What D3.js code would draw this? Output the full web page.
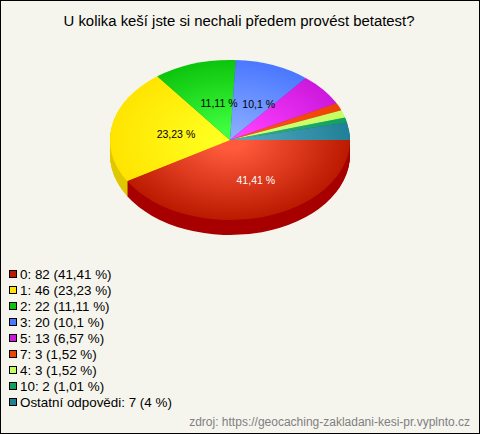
<!DOCTYPE html>
<html><head><meta charset="utf-8">
<script src="https://cdn.jsdelivr.net/npm/d3@7"></script>
<style>html,body{margin:0;padding:0;background:#f5f5ee}svg{display:block}text{font-family:"Liberation Sans",Arial,sans-serif}</style>
</head><body><svg id="c" width="480" height="434"></svg>
<script>
const title = "U kolika keší jste si nechali předem provést betatest?";
const source = "zdroj: https://geocaching-zakladani-kesi-pr.vyplnto.cz";
const categories = ["0","1","2","3","5","7","4","10","Ostatní odpovědi"];
const counts = [82,46,22,20,13,3,3,2,7];
const percents = ["41,41","23,23","11,11","10,1","6,57","1,52","1,52","1,01","4"];
const sliceLabels = ["41,41 %","23,23 %","11,11 %","10,1 %","","","","",""];
const labelColors = ["#fff","#000","#000","#000","#000","#000","#000","#000","#000"];
const edgeColors = ["#bb1a00","#ffe400","#0cc40c","#4a78ff","#cc18dd","#ee4400","#c4ff60","#10a060","#208098"];
const centerColors = ["#ff5a3c","#ffff20","#40ff40","#88aaff","#ff40ff","#ff5020","#d0ff80","#30b080","#50a8c0"];
const wallColors = ["#a80000","#e0c800","#0a9a0a","#3058c0","#a010b0","#b83000","#a0c840","#0a7a4a","#186078"];

const W=480,H=434,cx=230,cy=140,rx=120,ry=80,depth=15;
const svg=d3.select("#c");
svg.append("rect").attr("x",.5).attr("y",.5).attr("width",W-1).attr("height",H-1).attr("fill","#f5f5ee").attr("stroke","#000");
svg.append("text").attr("x",239).attr("y",26).attr("text-anchor","middle").attr("font-size",14.9).attr("fill","#000").text(title);

const pie=d3.pie().sort(null).startAngle(Math.PI/2).endAngle(Math.PI*2.5);
const arcs=pie(counts);
const arc=d3.arc().innerRadius(0).outerRadius(1);
const defs=svg.append("defs");
categories.forEach((c,i)=>{
  const g=defs.append("radialGradient").attr("id","g"+i).attr("gradientUnits","userSpaceOnUse").attr("cx",0).attr("cy",0).attr("r",1);
  g.append("stop").attr("offset","0.12").attr("stop-color",centerColors[i]);
  g.append("stop").attr("offset","1").attr("stop-color",edgeColors[i]);
});
// walls: the same slices stacked downward, deepest first
d3.range(depth,0,-1).forEach(d=>{
  svg.append("g").attr("transform",`translate(${cx},${cy+d}) scale(${rx},${ry})`)
    .selectAll("path").data(arcs).join("path").attr("d",arc).attr("fill",(a,i)=>wallColors[i]);
});
svg.append("g").attr("transform",`translate(${cx},${cy}) scale(${rx},${ry})`)
  .selectAll("path").data(arcs).join("path").attr("d",arc).attr("fill",(a,i)=>`url(#g${i})`);
// slice labels
svg.append("g").selectAll("text").data(arcs).join("text")
  .attr("text-anchor","start").attr("font-size",10.5)
  .attr("x",a=>{const m=(a.startAngle+a.endAngle)/2;return cx-10.5+Math.sin(m)*rx*.533})
  .attr("y",a=>{const m=(a.startAngle+a.endAngle)/2;return cy-Math.cos(m)*ry*.5+5.5})
  .attr("fill",(a,i)=>labelColors[i]).text((a,i)=>sliceLabels[i]);
// legend
const y=d3.scalePoint().domain(categories).range([274,402]);
const lg=svg.append("g").selectAll("g").data(categories).join("g").attr("transform",c=>`translate(0,${y(c)})`);
lg.append("rect").attr("x",9.5).attr("y",-3.5).attr("width",7).attr("height",7).attr("fill",(c,i)=>d3.color(edgeColors[i])).attr("stroke","#000");
lg.append("text").attr("x",20).attr("y",5).attr("font-size",13.4).attr("fill","#000").text((c,i)=>`${c}: ${counts[i]} (${percents[i]} %)`);
svg.append("text").attr("x",470).attr("y",426).attr("text-anchor","end").attr("font-size",12).attr("fill","#808080").text(source);
</script></body></html>
